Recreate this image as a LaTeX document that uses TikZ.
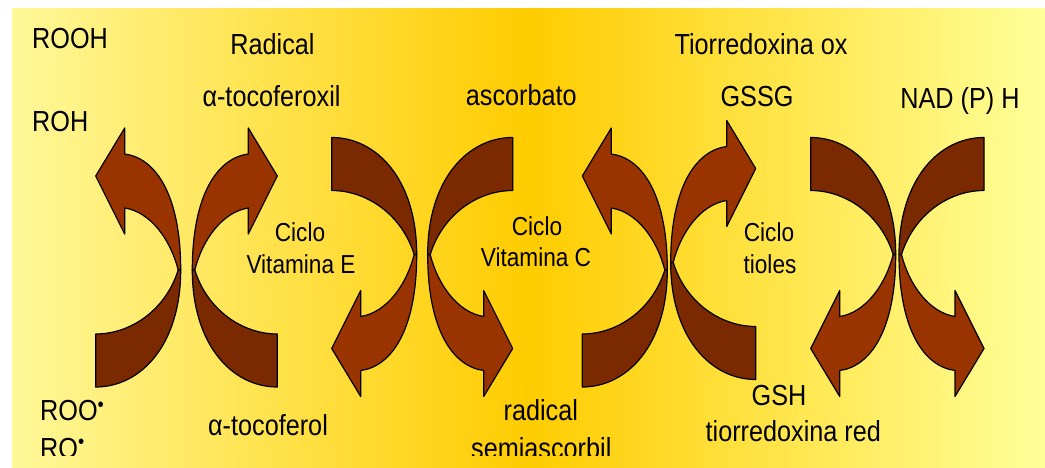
\documentclass[tikz,border=0pt]{standalone}
\usepackage{fontspec}
\setmainfont{Liberation Sans}[FakeStretch=0.87]
\definecolor{arrowlight}{HTML}{993300}
\definecolor{arrowdark}{HTML}{7A2900}
\definecolor{goldleft}{HTML}{FFF899}
\definecolor{goldmid}{HTML}{FFCC00}
\definecolor{goldright}{HTML}{FFFF99}

% one bent arrow, outer edge on x=0, head up and to the left
\newcommand\bendarrow{%
  \filldraw[headpart] (-56,154) .. controls (-25,158) and (0,195) .. (0,270)
    -- (-2.5,270) .. controls (-10,240) and (-30,212) .. (-56,208)
    -- (-56,234) -- (-85,176) -- (-56,128) -- cycle;
  \filldraw[tailpart] (0,270) .. controls (0,345) and (-40,387) .. (-85,387)
    -- (-85,334) .. controls (-50,334) and (-15,310) .. (-2.5,270) -- cycle;
}

\begin{document}
\begin{tikzpicture}[x=1pt,y=-1pt,line join=round,
    headpart/.style={fill=arrowlight,draw=black,line width=1.2pt},
    tailpart/.style={fill=arrowdark,draw=black,line width=1.2pt},
    lbl/.style={font=\fontsize{29}{34}\selectfont,anchor=base,inner sep=0pt},
    cyc/.style={font=\fontsize{26}{31}\selectfont,anchor=base,inner sep=0pt}]
    \useasboundingbox (0,0) rectangle (1045,468);
    % background
    \shade[left color=goldleft,right color=goldright,middle color=goldmid]
        (12,9) rectangle (1045,468);
    % vitamin E
    \begin{scope}[shift={(180.7,0)}] \bendarrow \end{scope}
    \begin{scope}[shift={(192.3,0)},xscale=-1] \bendarrow \end{scope}
    % vitamin C
    \begin{scope}[shift={(416.7,524.5)},yscale=-1] \bendarrow \end{scope}
    \begin{scope}[shift={(427.7,524.5)},scale=-1] \bendarrow \end{scope}
    % tioles
    \begin{scope}[shift={(667.3,0)}] \bendarrow \end{scope}
    \begin{scope}[shift={(670.7,-7.5)},xscale=-1] \bendarrow \end{scope}
    % NAD(P)H
    \begin{scope}[shift={(895.7,524.5)},yscale=-1] \bendarrow \end{scope}
    \begin{scope}[shift={(899,524.5)},scale=-1] \bendarrow \end{scope}
    % labels
    \node[lbl,anchor=base west] (rooh) at (32,48.3) {ROOH};
    \node[lbl,anchor=base west] (roh) at (32,131.7) {ROH};
    \node[lbl] (radical) at (272.5,55) {Radical};
    \node[lbl] (tocoferoxil) at (271.5,106.7) {α-tocoferoxil};
    \node[cyc] (cicloE) at (300,241.7) {Ciclo};
    \node[cyc] (vitE) at (301,273.3) {Vitamina E};
    \node[lbl] (tocoferol) at (268,435) {α-tocoferol};
    \node[lbl] (ascorbato) at (521.3,106) {ascorbato};
    \node[cyc] (cicloC) at (537,235) {Ciclo};
    \node[cyc] (vitC) at (536,266.7) {Vitamina C};
    \node[lbl] (radsemi) at (540.8,420.7) {radical};
    \node[lbl] (tiorox) at (761,55) {Tiorredoxina ox};
    \node[lbl] (gssg) at (757,106.7) {GSSG};
    \node[cyc] (ciclotio) at (769,241.7) {Ciclo};
    \node[cyc] (tioles) at (770,273.3) {tioles};
    \node[lbl] (gsh) at (779,405) {GSH};
    \node[lbl] (tiorred) at (793.3,441.7) {tiorredoxina red};
    \node[lbl] (nadph) at (960,108.3) {NAD (P) H};
    % cut at the lower edge
    \begin{scope}
    \clip (0,0) rectangle (1045,455);
    \node[lbl,anchor=base west] (roo) at (40,420.7) {ROO\textsuperscript{\textbullet}};
    \node[lbl,anchor=base west] (ro) at (40,458) {RO\textsuperscript{\textbullet}};
    \node[lbl] (semi) at (541.3,458) {semiascorbil};
    \end{scope}
\end{tikzpicture}
\end{document}
